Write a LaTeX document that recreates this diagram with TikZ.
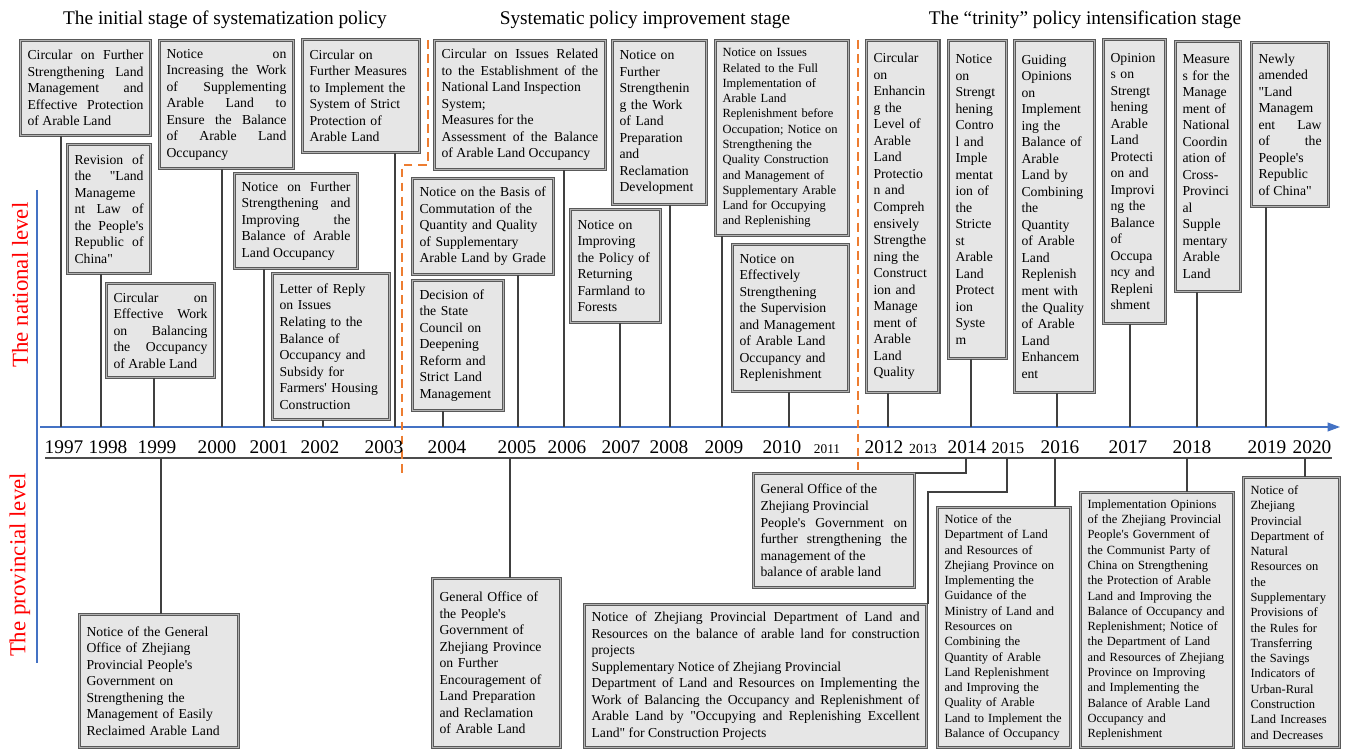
\documentclass[tikz,border=0pt]{standalone}
\usepackage{fontspec}
\setmainfont{Liberation Serif}[Ligatures=TeXOff]
\usetikzlibrary{arrows.meta}
\definecolor{axisblue}{HTML}{4472C4}
\definecolor{stageline}{HTML}{ED7D31}
\definecolor{docfill}{HTML}{E6E6E6}
\hyphenpenalty=10000
\exhyphenpenalty=10000

\begin{document}
\begin{tikzpicture}[x=0.02cm,y=-0.02cm,
  doc/.style={draw=black!65,double=gray!60,line width=0.6pt,double distance=0.8pt,fill=docfill,anchor=north west,inner xsep=4pt,inner ysep=3pt,align=left,font=\fontsize{7.8}{9.4}\selectfont},
  just/.style={align=justify},
  small/.style={font=\fontsize{7.1}{8.7}\selectfont},
  link/.style={draw=black!75,line width=0.6pt},
  year/.style={anchor=base,inner sep=0pt,font=\fontsize{11}{12}\selectfont},
  stage/.style={anchor=base,inner sep=0pt,font=\fontsize{11}{13}\selectfont},
  level/.style={rotate=90,text=red,inner sep=0pt,font=\fontsize{13}{15}\selectfont},
  border/.style={draw=stageline,dashed,dash pattern=on 5pt off 3pt,line width=0.9pt}]
\useasboundingbox (0,0) rectangle (1347,750);

\node[stage] at (225,25) (s1) {The initial stage of systematization policy};
\node[stage] at (645,25) (s2) {Systematic policy improvement stage};
\node[stage] at (1085,25) (s3) {The “trinity” policy intensification stage};

\node[level] at (20,285) (nat) {The national level};
\node[level] at (20,565) (prov) {The provincial level};

\draw[axisblue,line width=0.7pt] (37,190) -- (37,663);
\draw[axisblue,line width=0.7pt,-{Triangle[length=7pt,width=5pt]}] (40,427) -- (1340,427);
\draw[black!70,line width=0.8pt] (45,458) -- (1332,458);

\draw[border] (428,40) -- (428,165) -- (402,165) -- (402,475);
\draw[border] (858,40) -- (858,474);

\node[year] at (64,453) (y1997) {1997};
\node[year] at (108,453) (y1998) {1998};
\node[year] at (157,453) (y1999) {1999};
\node[year] at (217,453) (y2000) {2000};
\node[year] at (269,453) (y2001) {2001};
\node[year] at (320,453) (y2002) {2002};
\node[year] at (384,453) (y2003) {2003};
\node[year] at (447,453) (y2004) {2004};
\node[year] at (517,453) (y2005) {2005};
\node[year] at (567,453) (y2006) {2006};
\node[year] at (621,453) (y2007) {2007};
\node[year] at (669,453) (y2008) {2008};
\node[year] at (724,453) (y2009) {2009};
\node[year] at (782,453) (y2010) {2010};
\node[year,font=\fontsize{7.6}{9}\selectfont] at (827,453) (y2011) {2011};
\node[year] at (884,453) (y2012) {2012};
\node[year,font=\fontsize{7.9}{9}\selectfont] at (923,453) (y2013) {2013};
\node[year] at (967,453) (y2014) {2014};
\node[year,font=\fontsize{9.3}{11}\selectfont] at (1008,453) (y2015) {2015};
\node[year] at (1060,453) (y2016) {2016};
\node[year] at (1128,453) (y2017) {2017};
\node[year] at (1192,453) (y2018) {2018};
\node[year] at (1267,453) (y2019) {2019};
\node[year] at (1312,453) (y2020) {2020};

\coordinate (n1997) at (61,427);
\coordinate (n1998) at (101,427);
\coordinate (n1999) at (154,427);
\coordinate (n2000) at (222,427);
\coordinate (n2001) at (264,427);
\coordinate (n2002) at (323,427);
\coordinate (n2003) at (395,427);
\coordinate (n2004) at (443,427);
\coordinate (n2005) at (518,427);
\coordinate (n2006) at (564,427);
\coordinate (n2007) at (620,427);
\coordinate (n2008) at (670,427);
\coordinate (n2009) at (722,427);
\coordinate (n2010) at (789,427);
\coordinate (n2012) at (888,427);
\coordinate (n2014) at (971,427);
\coordinate (n2016) at (1057,427);
\coordinate (n2017) at (1130,427);
\coordinate (n2018) at (1197,427);
\coordinate (n2019) at (1266,427);

\coordinate (s1999) at (161,458);
\coordinate (s2005) at (510,458);
\coordinate (s2014) at (966,458);
\coordinate (s2015) at (1007,458);
\coordinate (b2015) at (928,492);
\coordinate (s2016) at (1055,458);
\coordinate (s2018) at (1187,458);
\coordinate (s2020) at (1305,458);

\node[doc,just,text width=66pt,minimum height=1.9cm] at (20,40) (a1) {Circular on Further\linebreak Strengthening Land\linebreak Management and\linebreak Effective Protection\linebreak of Arable Land};
\node[doc,just,text width=39.3pt,minimum height=2.58cm] at (67,144) (a2) {Revision of\linebreak the "Land\linebreak Manageme\linebreak nt Law of\linebreak the People's\linebreak Republic of\linebreak China"};
\node[doc,just,text width=53.5pt,minimum height=1.88cm] at (106,283) (a3) {Circular on\linebreak Effective Work\linebreak on Balancing\linebreak the Occupancy\linebreak of Arable Land};
\node[doc,just,text width=68.2pt,minimum height=2.56cm] at (159,40) (a4) {Notice on\linebreak Increasing the Work\linebreak of Supplementing\linebreak Arable Land to\linebreak Ensure the Balance\linebreak of Arable Land\linebreak Occupancy};
\node[doc,just,text width=62pt,minimum height=1.9cm] at (234,173) (a5) {Notice on Further\linebreak Strengthening and\linebreak Improving the\linebreak Balance of Arable\linebreak Land Occupancy};
\node[doc,text width=58.6pt,minimum height=2.92cm] at (272,273) (a6) {Letter of Reply\\ on Issues\\ Relating to the\\ Balance of\\ Occupancy and\\ Subsidy for\\ Farmers' Housing\\ Construction};
\node[doc,text width=58.6pt,minimum height=2.26cm] at (302,39) (a7) {Circular on\\ Further Measures\\ to Implement the\\ System of Strict\\ Protection of\\ Arable Land};

\node[doc,just,text width=89.2pt,minimum height=2.58cm] at (434,40) (b1) {Circular on Issues Related\linebreak to the Establishment of the\linebreak National Land Inspection\\ System;\\ Measures for the\\ Assessment of the Balance\linebreak of Arable Land Occupancy};
\node[doc,text width=72.2pt,minimum height=1.92cm] at (412,178) (b2) {Notice on the Basis of\\ Commutation of the\\ Quantity and Quality\\ of Supplementary\\ Arable Land by Grade};
\node[doc,text width=43.9pt,minimum height=2.6cm] at (412,280) (b3) {Decision of\\ the State\\ Council on\\ Deepening\\ Reform and\\ Strict Land\\ Management};
\node[doc,text width=45.6pt,minimum height=3.28cm] at (612,40) (b4) {Notice on\\ Further\\ Strengthenin\\ g the Work\\ of Land\\ Preparation\\ and\\ Reclamation\\ Development};
\node[doc,text width=43.3pt,minimum height=2.26cm] at (570,209) (b5) {Notice on\\ Improving\\ the Policy of\\ Returning\\ Farmland to\\ Forests};
\node[doc,small,text width=67.7pt,minimum height=3.9cm] at (715,40) (b6) {Notice on Issues\\ Related to the Full\\ Implementation of\\ Arable Land\\ Replenishment before\\ Occupation; Notice on\\ Strengthening the\\ Quality Construction\\ and Management of\\ Supplementary Arable\\ Land for Occupying\\ and Replenishing};
\node[doc,text width=58pt,minimum height=2.94cm] at (732,244) (b7) {Notice on\\ Effectively\\ Strengthening\\ the Supervision\\ and Management\\ of Arable Land\\ Occupancy and\\ Replenishment};

\node[doc,text width=33.1pt,minimum height=7.04cm] at (866,40) (c1) {Circular\\ on\\ Enhancin\\ g the\\ Level of\\ Arable\\ Land\\ Protectio\\ n and\\ Compreh\\ ensively\\ Strengthe\\ ning the\\ Construct\\ ion and\\ Manage\\ ment of\\ Arable\\ Land\\ Quality};
\node[doc,text width=25.1pt,minimum height=6.36cm] at (948,40) (c2) {Notice\\ on\\ Strengt\\ hening\\ Contro\\ l and\\ Imple\\ mentat\\ ion of\\ the\\ Stricte\\ st\\ Arable\\ Land\\ Protect\\ ion\\ Syste\\ m};
\node[doc,text width=37.6pt,minimum height=7.04cm] at (1014,40) (c3) {Guiding\\ Opinions\\ on\\ Implement\\ ing the\\ Balance of\\ Arable\\ Land by\\ Combining\\ the\\ Quantity\\ of Arable\\ Land\\ Replenish\\ ment with\\ the Quality\\ of Arable\\ Land\\ Enhancem\\ ent};
\node[doc,text width=27.4pt,minimum height=5.68cm] at (1103,39) (c4) {Opinion\\ s on\\ Strengt\\ hening\\ Arable\\ Land\\ Protecti\\ on and\\ Improvi\\ ng the\\ Balance\\ of\\ Occupa\\ ncy and\\ Repleni\\ shment};
\node[doc,text width=29.1pt,minimum height=5cm] at (1175,41) (c5) {Measure\\ s for the\\ Manage\\ ment of\\ National\\ Coordin\\ ation of\\ Cross-\\ Provinci\\ al\\ Supple\\ mentary\\ Arable\\ Land};
\node[doc,just,text width=35.9pt,minimum height=3.28cm] at (1251,42) (c6) {Newly\\ amended\\ "Land\\ Managem\\ ent Law\linebreak of the\linebreak People's\\ Republic\\ of China"};

\node[doc,text width=82.4pt,minimum height=2.66cm] at (79,614) (p1) {Notice of the General\\ Office of Zhejiang\\ Provincial People's\\ Government on\\ Strengthening the\\ Management of Easily\\ Reclaimed Arable Land};
\node[doc,text width=64.8pt,minimum height=3.38cm] at (432,578) (p2) {General Office of\\ the People's\\ Government of\\ Zhejiang Province\\ on Further\\ Encouragement of\\ Land Preparation\\ and Reclamation\\ of Arable Land};
\node[doc,just,text width=186.7pt,minimum height=2.86cm] at (584,604) (p3) {Notice of Zhejiang Provincial Department of Land and\linebreak Resources on the balance of arable land for construction\linebreak projects\\ Supplementary Notice of Zhejiang Provincial\\ Department of Land and Resources on Implementing the\linebreak Work of Balancing the Occupancy and Replenishment of\linebreak Arable Land by "Occupying and Replenishing Excellent\linebreak Land" for Construction Projects};
\node[doc,just,text width=83.5pt,minimum height=2.28cm] at (753,473) (p4) {General Office of the\\ Zhejiang Provincial\\ People's Government on\linebreak further strengthening the\linebreak management of the\\ balance of arable land};
\node[doc,small,text width=67.7pt,minimum height=4.8cm] at (937,507) (p5) {Notice of the\\ Department of Land\\ and Resources of\\ Zhejiang Province on\\ Implementing the\\ Guidance of the\\ Ministry of Land and\\ Resources on\\ Combining the\\ Quantity of Arable\\ Land Replenishment\\ and Improving the\\ Quality of Arable\\ Land to Implement the\\ Balance of Occupancy};
\node[doc,small,text width=79pt,minimum height=5.1cm] at (1080,492) (p6) {Implementation Opinions\\ of the Zhejiang Provincial\\ People's Government of\\ the Communist Party of\\ China on Strengthening\\ the Protection of Arable\\ Land and Improving the\\ Balance of Occupancy and\\ Replenishment; Notice of\\ the Department of Land\\ and Resources of Zhejiang\\ Province on Improving\\ and Implementing the\\ Balance of Arable Land\\ Occupancy and\\ Replenishment};
\node[doc,small,text width=46.7pt,minimum height=5.4cm] at (1243,477) (p7) {Notice of\\ Zhejiang\\ Provincial\\ Department of\\ Natural\\ Resources on\\ the\\ Supplementary\\ Provisions of\\ the Rules for\\ Transferring\\ the Savings\\ Indicators of\\ Urban-Rural\\ Construction\\ Land Increases\\ and Decreases};

\draw[link] (a1.south -| n1997) -- (n1997);
\draw[link] (a2.south -| n1998) -- (n1998);
\draw[link] (a3.south -| n1999) -- (n1999);
\draw[link] (a4.south -| n2000) -- (n2000);
\draw[link] (a5.south -| n2001) -- (n2001);
\draw[link] (a6.south -| n2002) -- (n2002);
\draw[link] (a7.south -| n2003) -- (n2003);
\draw[link] (b3.south -| n2004) -- (n2004);
\draw[link] (b2.south -| n2005) -- (n2005);
\draw[link] (b1.south -| n2006) -- (n2006);
\draw[link] (b5.south -| n2007) -- (n2007);
\draw[link] (b4.south -| n2008) -- (n2008);
\draw[link] (b6.south -| n2009) -- (n2009);
\draw[link] (b7.south -| n2010) -- (n2010);
\draw[link] (c1.south -| n2012) -- (n2012);
\draw[link] (c2.south -| n2014) -- (n2014);
\draw[link] (c3.south -| n2016) -- (n2016);
\draw[link] (c4.south -| n2017) -- (n2017);
\draw[link] (c5.south -| n2018) -- (n2018);
\draw[link] (c6.south -| n2019) -- (n2019);

\draw[link] (s1999) -- (s1999 |- p1.north);
\draw[link] (s2005) -- (s2005 |- p2.north);
\draw[link] (s2014) |- (p4.north east);
\draw[link] (s2015) |- (b2015) -- (b2015 |- p3.north);
\draw[link] (s2016) -- (s2016 |- p5.north);
\draw[link] (s2018) -- (s2018 |- p6.north);
\draw[link] (s2020) -- (s2020 |- p7.north);
\end{tikzpicture}
\end{document}
